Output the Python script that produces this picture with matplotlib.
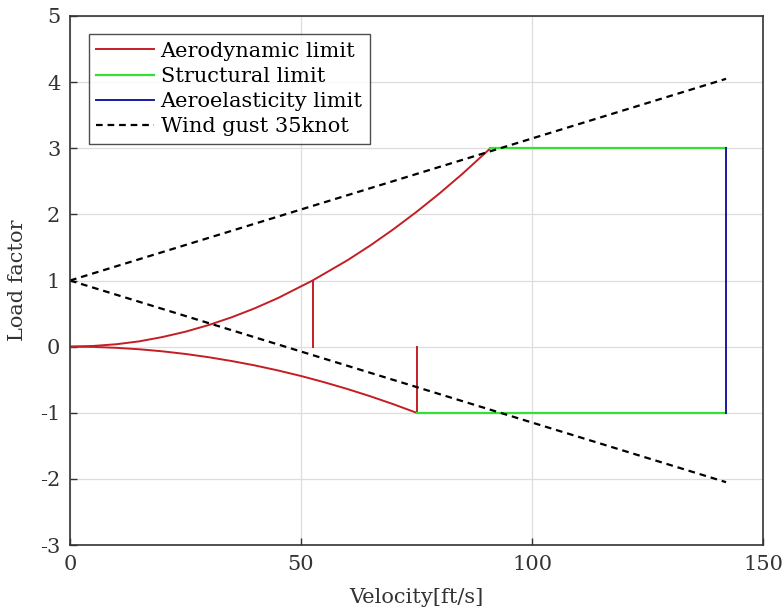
import numpy as np
import matplotlib.pyplot as plt

plt.rcParams['font.family'] = ['DejaVu Serif']
plt.rcParams['axes.unicode_minus'] = False

# V-n diagram values
v_pos = [0, 5, 10, 15, 20, 25, 30, 35, 40, 45, 52.5, 60, 65, 70, 75, 80, 85, 91]
n_pos = [0, 0.01, 0.036, 0.08, 0.145, 0.226, 0.326, 0.444, 0.58, 0.734, 1.0, 1.304, 1.53, 1.775, 2.038, 2.318, 2.617, 3.0]
v_neg = [0, 5, 10, 15, 20, 25, 30, 35, 40, 45, 50, 55, 60, 65, 70, 75]
n_neg = [0, -0.004, -0.018, -0.04, -0.071, -0.111, -0.16, -0.218, -0.284, -0.36, -0.444, -0.538, -0.64, -0.751, -0.871, -1.0]
v_stall = [52.5, 75]
v_struct_top = [91, 142]
v_struct_bot = [75, 142]
n_max, n_min = 3, -1
v_dive = 142
v_gust = [0, 142]
n_gust_up = [1, 4.05]
n_gust_dn = [1, -2.05]

red = '#c41e24'
green = '#33e033'
blue = '#1a1aa0'

fig = plt.figure(figsize=(7.83, 6.08), dpi=100)
ax = fig.add_axes([0.0894, 0.1036, 0.8851, 0.8701])

ax.plot(v_pos, n_pos, color=red, lw=1.4, label='Aerodynamic limit')
ax.plot(v_neg, n_neg, color=red, lw=1.4)
ax.plot([v_stall[0], v_stall[0]], [0, n_pos[v_pos.index(52.5)]], color=red, lw=1.4)
ax.plot([v_stall[1], v_stall[1]], [0, n_neg[-1]], color=red, lw=1.4)
ax.plot(v_struct_top, [n_max, n_max], color=green, lw=1.6, label='Structural limit')
ax.plot(v_struct_bot, [n_min, n_min], color=green, lw=1.6)
ax.plot([v_dive, v_dive], [n_min, n_max], color=blue, lw=1.4, label='Aeroelasticity limit')
ax.plot(v_gust, n_gust_up, color='k', ls=(0, (3, 2.2)), lw=1.6, label='Wind gust 35knot')
ax.plot(v_gust, n_gust_dn, color='k', ls=(0, (3, 2.2)), lw=1.6)

ax.set_xlim(0, 150)
ax.set_ylim(-3, 5)
ax.set_xticks([0, 50, 100, 150])
ax.set_yticks(range(-3, 6))
ax.grid(True, color='#dddddd', lw=0.9)
ax.tick_params(direction='in', length=5, width=1, labelsize=15, colors='#333333', pad=7)
for s in ax.spines.values():
    s.set_color('#333333')
    s.set_linewidth(1.2)
ax.set_xlabel('Velocity[ft/s]', fontsize=15, color='#333333', labelpad=10)
ax.set_ylabel('Load factor', fontsize=15, color='#333333', labelpad=9)

leg = ax.legend(loc='upper left', fontsize=15, frameon=True, fancybox=False,
                edgecolor='#222222', handlelength=2.8, handletextpad=0.3,
                labelspacing=0.3, borderpad=0.35, bbox_to_anchor=(0.012, 0.985))
leg.get_frame().set_linewidth(1.0)

fig.savefig('out.png', dpi=100)
